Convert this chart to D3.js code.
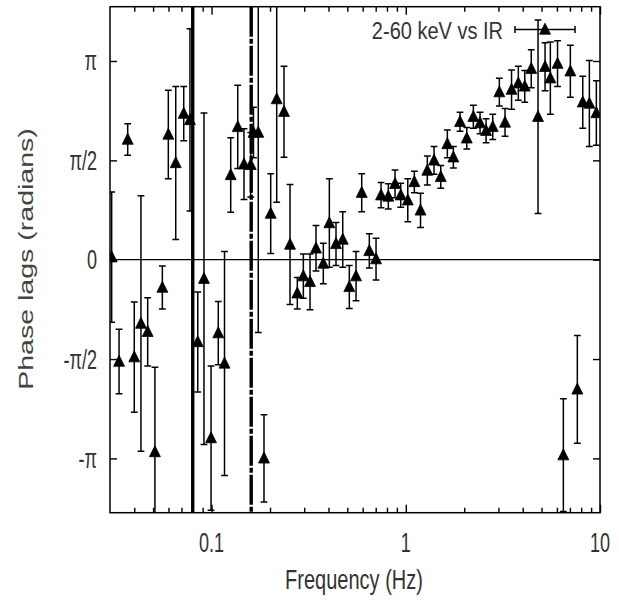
<!DOCTYPE html>
<html>
<head>
<meta charset="utf-8">
<script src="https://cdn.jsdelivr.net/npm/d3@7"></script>
<style>
  body { margin: 0; background: #fff; }
  text { font-family: "Liberation Sans", Arial, sans-serif; fill: #333; }
</style>
</head>
<body>
<div id="container"></div>
<script>
// frequency (Hz), phase lag (rad), error (rad)
const freq = [0.0306, 0.0334, 0.0370, 0.0400, 0.0433, 0.0469, 0.0511, 0.0558, 0.0599, 0.0654,
  0.0719, 0.0774, 0.0849, 0.0914, 0.0994, 0.1083, 0.1166, 0.1255, 0.1364, 0.1469,
  0.1591, 0.1644, 0.1740, 0.1862, 0.2016, 0.2165, 0.2361, 0.2535, 0.2764, 0.2969,
  0.3214, 0.3450, 0.3762, 0.4041, 0.4373, 0.4736, 0.5121, 0.5545, 0.5931, 0.6491,
  0.7029, 0.7458, 0.8131, 0.8806, 0.9419, 1.024, 1.107, 1.191, 1.291, 1.398,
  1.514, 1.637, 1.758, 1.903, 2.061, 2.228, 2.412, 2.590, 2.804, 3.032,
  3.244, 3.504, 3.798, 4.098, 4.426, 4.797, 5.213, 5.551, 6.045, 6.476,
  7.036, 7.644, 8.152, 8.816, 9.577];
const phase = [0.04, -1.61, 1.90, -1.54, -1.01, -1.14, -3.04, -0.44, 1.98, 1.53,
  2.31, 2.21, -1.30, -0.30, -2.82, -1.16, -1.64, 1.34, 2.10, 1.51,
  1.50, 2.01, 2.01, -3.14, 0.73, 2.54, 2.34, 0.24, -0.53, -0.26,
  -0.35, 0.18, -0.06, 0.58, 0.25, 0.32, -0.43, -0.26, 1.06, 0.14,
  0.01, 1.02, 1.00, 1.20, 1.02, 0.94, 1.23, 0.78, 1.41, 1.57,
  1.31, 1.83, 1.62, 2.18, 1.92, 2.26, 2.16, 2.04, 2.10, 2.65,
  2.17, 2.69, 2.79, 2.74, 3.02, 2.26, 3.05, 2.87, 3.10, -3.09,
  2.98, -2.05, 2.49, 2.47, 2.32];
const err = [1.03, 0.51, 0.25, 0.87, 2.02, 0.54, 1.34, 0.34, 0.70, 1.21,
  0.43, 1.44, 0.79, 2.62, 1.14, 0.50, 1.77, 0.59, 0.66, 0.56,
  0.51, 0.40, 3.16, 0.69, 0.63, 1.63, 0.72, 0.95, 0.25, 0.35,
  0.44, 0.36, 0.32, 0.70, 0.34, 0.44, 0.34, 0.39, 0.30, 0.27,
  0.33, 0.20, 0.20, 0.22, 0.19, 0.34, 0.17, 0.27, 0.23, 0.22,
  0.18, 0.22, 0.17, 0.15, 0.17, 0.18, 0.17, 0.19, 0.20, 0.22,
  0.22, 0.31, 0.27, 0.25, 0.30, 1.53, 0.38, 0.57, 0.36, 0.89,
  0.41, 0.85, 0.41, 0.68, 0.51];

const qpoLines = [0.08, 0.16];
const xMajor = [0.1, 1, 10];
const xLabels = ['0.1', '1', '10'];
const xMinor = [0.04, 0.05, 0.06, 0.07, 0.08, 0.09, 0.2, 0.3, 0.4, 0.5, 0.6, 0.7, 0.8, 0.9,
  2, 3, 4, 5, 6, 7, 8, 9];
const yTicks = [-Math.PI, -Math.PI / 2, 0, Math.PI / 2, Math.PI];
const yLabels = ['-\u03c0', '-\u03c0/2', '0', '\u03c0/2', '\u03c0'];

const w = 619, h = 605;
const plotL = 110, plotR = 600, plotT = 6.7, plotB = 512.7;

const svg = d3.select('#container').append('svg')
  .attr('width', w)
  .attr('height', h);

const x = d3.scaleLog().domain([0.03, 10]).range([plotL, plotR]);
const y = d3.scaleLinear().domain([-4, 4]).range([plotB, plotT]);

svg.append('clipPath').attr('id', 'clip')
  .append('rect')
  .attr('x', plotL).attr('y', plotT)
  .attr('width', plotR - plotL).attr('height', plotB - plotT);

const data = freq.map((f, i) => ({ f, p: phase[i], e: err[i] }));

// zero line
svg.append('line')
  .attr('x1', plotL).attr('x2', plotR)
  .attr('y1', y(0)).attr('y2', y(0))
  .attr('stroke', '#000').attr('stroke-width', 1.3);

// QPO markers
svg.selectAll('.qpo')
  .data(qpoLines)
  .join('line')
  .attr('class', 'qpo')
  .attr('x1', d => x(d)).attr('x2', d => x(d))
  .attr('y1', plotT).attr('y2', plotB)
  .attr('stroke', '#000')
  .attr('stroke-width', 3.4)
  .attr('stroke-dasharray', (d, i) => i === 0 ? null : '30,2,5,2');

// error bars
const bars = svg.append('g').attr('clip-path', 'url(#clip)');
const cap = 3.4;
bars.selectAll('path')
  .data(data)
  .join('path')
  .attr('d', d => {
    const cx = x(d.f), y1 = y(d.p + d.e), y2 = y(d.p - d.e);
    return `M${cx},${y1}V${y2}M${cx - cap},${y1}H${cx + cap}M${cx - cap},${y2}H${cx + cap}`;
  })
  .attr('fill', 'none')
  .attr('stroke', '#000')
  .attr('stroke-width', 1.5);

// triangles
const tri = (s) => `M0,${-s * 0.6}L${s * 0.52},${s * 0.45}L${-s * 0.52},${s * 0.45}Z`;
const marker = (sel) => sel
  .attr('d', tri(10.5))
  .attr('fill', '#000')
  .attr('stroke', '#000')
  .attr('stroke-width', 0.8)
  .attr('stroke-linejoin', 'round');

bars.selectAll('.pt')
  .data(data)
  .join('path')
  .attr('class', 'pt')
  .attr('transform', d => `translate(${x(d.f)},${y(d.p)})`)
  .call(marker);

// frame
svg.append('rect')
  .attr('x', plotL).attr('y', plotT)
  .attr('width', plotR - plotL).attr('height', plotB - plotT)
  .attr('fill', 'none').attr('stroke', '#000').attr('stroke-width', 1.5);

// ticks
svg.append('g').attr('transform', `translate(0,${plotB})`)
  .call(d3.axisBottom(x).tickValues(xMinor).tickSize(-5).tickFormat(''));
svg.append('g').attr('transform', `translate(0,${plotB})`)
  .call(d3.axisBottom(x).tickValues(xMajor).tickSize(-8).tickFormat(''));
svg.append('g').attr('transform', `translate(0,${plotT})`)
  .call(d3.axisTop(x).tickValues(xMinor).tickSize(-5).tickFormat(''));
svg.append('g').attr('transform', `translate(0,${plotT})`)
  .call(d3.axisTop(x).tickValues(xMajor).tickSize(-8).tickFormat(''));
svg.append('g').attr('transform', `translate(${plotL},0)`)
  .call(d3.axisLeft(y).tickValues(yTicks).tickSize(-7).tickFormat(''));
svg.append('g').attr('transform', `translate(${plotR},0)`)
  .call(d3.axisRight(y).tickValues(yTicks).tickSize(-7).tickFormat(''));
svg.selectAll('.domain').remove();
svg.selectAll('.tick line').attr('stroke', '#000').attr('stroke-width', 1.4);

// tick labels
const label = (txt, tx, ty, size, anchor, sx, sy) => svg.append('text')
  .attr('transform', `translate(${tx},${ty}) scale(${sx},${sy})`)
  .attr('text-anchor', anchor)
  .style('font-size', size + 'px')
  .text(txt);

xMajor.forEach((v, i) => label(xLabels[i], x(v), 552, 19, 'middle', 0.95, 1.45));
yTicks.forEach((v, i) => label(yLabels[i], 97, y(v) + 9.5, 19, 'end', 0.95, 1.45));

// axis titles
label('Frequency (Hz)', 354, 589, 20, 'middle', 1, 1.35);
svg.append('text')
  .attr('transform', 'translate(33,259) rotate(-90) scale(1.36,1)')
  .attr('text-anchor', 'middle')
  .style('font-size', '21px')
  .style('fill', '#444')
  .text('Phase lags (radians)');

// legend
label('2-60 keV vs IR', 503, 39, 20, 'end', 1, 1.15);
const lg = svg.append('g').attr('transform', 'translate(545,29.5)');
lg.append('path')
  .attr('d', `M-30,0H30M-30,-3.4V3.4M30,-3.4V3.4`)
  .attr('stroke', '#000').attr('stroke-width', 1.5).attr('fill', 'none');
lg.append('path').call(marker);
</script>
</body>
</html>
